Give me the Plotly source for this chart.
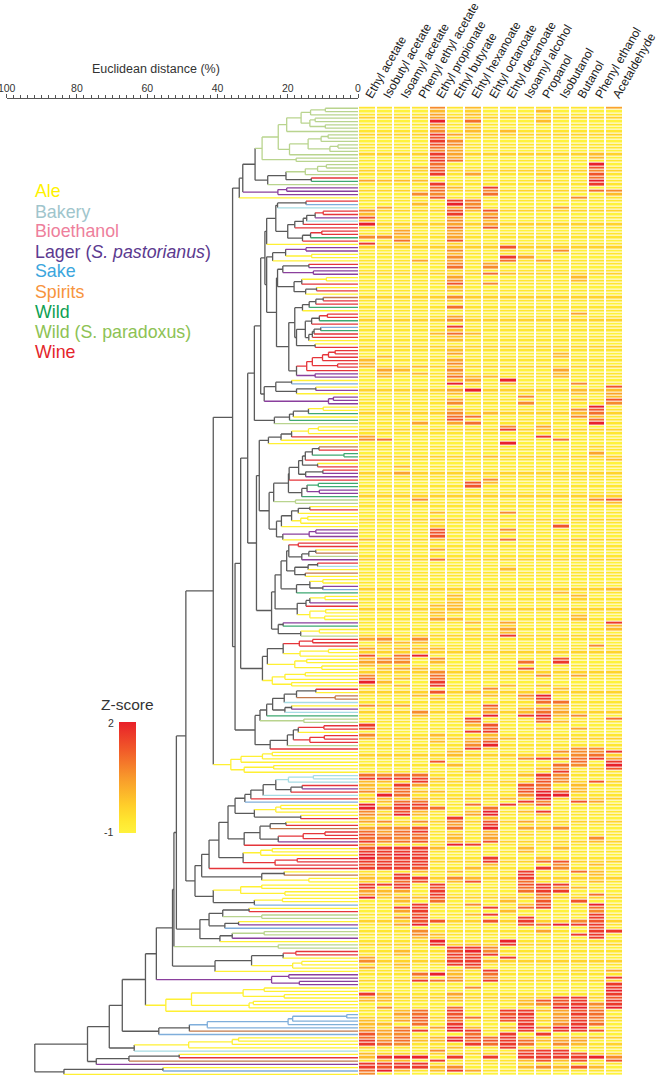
import re
import plotly.graph_objects as go

W, H = 660, 1078

COLUMNS = ["Ethyl acetate", "Isobutyl acetate", "Isoamyl acetate", "Phenyl ethyl acetate",
           "Ethyl propionate", "Ethyl butyrate", "Ehtyl hexanoate", "Ehtyl octanoate",
           "Ehtyl decanoate", "Isoamyl alcohol", "Propanol", "Isobutanol", "Butanol",
           "Phenyl ethanol", "Acetaldehyde"]

LEGEND_NAMES = ["Ale", "Bakery", "Bioethanol", "Lager (<i>S. pastorianus</i>)", "Sake",
                "Spirits", "Wild", "Wild (S. paradoxus)", "Wine"]
LEGEND_COLORS = ["#FFF200", "#9FC5CC", "#EE7F9C", "#5C3A8F", "#3BA6DD",
                 "#F7943D", "#0E9F52", "#8DC254", "#E4252B"]

# line colour of a clade whose leaves are all of one type, gray when mixed
LEAF_COLORS = {"A": "#FFF033", "B": "#A6DCE4", "E": "#EE7F9C", "L": "#8A3F9D", "K": "#7FAEDB",
               "S": "#C2784A", "W": "#3DA870", "P": "#B9D48E", "V": "#E5353A"}
MIXED = "#5A5A5A"

# dendrogram, top to bottom, heights are distance in %
P1 = "((((P,P)9.3,P)13.5,((P,P)12.2,(P,P)9.3)13.7)16.2,P)20.3"
P2 = "((((P,P)8.5,P)10.5,((P,P)5.7,P)8)14.2,P)19.5"
P3 = f"(({P1},{P2})22.7,(P,P)17.6)27.3"
P4 = "(((((P,P)9,P)11.5,P)15,(V,W)13.3)20.5,P)25.7"
UPPER = f"((({P3},{P4})29.3,((L,L)20.3,L)22.8)32.8,A)33.8"

B1 = "(((V,K)14.8,B)22.9,((((((V,V)9.9,L)12.2,B)14.6,V)15.6,V)18,(((V,V)10.3,W)13.5,V)15.8)20)23.4"
N350 = f"({B1},A)26"
N368 = "(((L,L)14.8,(A,A)13.2)20.6,A)24.3"
N833 = "(((V,L)14,(L,L)12.7)21.4,(((A,A)9,V)16,((A,V)11.8,A)14.9)18.2)22.9"
N908 = "((((S,V)9.9,V)12,W)13.9,A)15.8"
N935 = "(((V,V)8.7,W)11,V)13.2"
N938 = "((((K,W)10.6,V)12.5,V)13,A)14"
N890 = f"(({N935},{N938})15,(A,V)12.2)17.5"
N885 = f"({N908},{N890})18"
N440 = "((((((V,V)6.5,V)8.4,V)10.1,(V,V)5.8)13,V)14.6,(L,L)12.2)17.5"
N830 = f"({N833},({N885},{N440})19.7)23.2"
N345 = f"({N350},({N368},{N830})26)26.5"
N343 = "(((A,K)18.9,((A,L)12,A)17.5)23.4,((L,L)7,L)8.4)26.7"
N373 = "(((((A,A)9.9,W)14.1,A)18.4,W)19.5,P)23.8"
N313 = f"(({N345},{N343})27.7,{N373})29.5"

N355 = "(((((A,A)11.3,A)14.1,V)18.9,A)21.9,A)25.5"
N466 = "(((S,V)11.1,(W,W)4)13,V)15"
N446 = f"(({N466},(A,V)11.5)15.8,((V,L)10,L)14.9)16.9"
N416 = f"(({N446},V)19.6,(((W,W)11.3,(L,L)11)14.5,W)16)19.8"
N372 = f"({N416},(P,P)17.8)24"
N395 = "((((A,V)13.7,A)17,((A,A)14.3,A)16.3)18.9,A)21.8"
N398 = "(((L,L)12,L)13.9,A)21.4"
N358 = f"({N372},({N395},{N398})23.2)25.3"
N328 = f"({N355},{N358})28.1"
N417 = "((V,V)17,(((A,S)12,P)14,L)16)19.7"
N435 = "(((V,B)11.5,A)14.2,(S,A)15)18"
N440B = "(((A,A)10,(L,K)10)13.7,W)17.5"
N393 = f"(({N417},{N435})20.3,{N440B})21.9"
N442 = "((((A,A)9.4,L)13.7,V)14.8,((A,A)9.2,(A,A)9.5)13.7)17.3"
N385 = "((L,W)21.3,((A,A)11,P)16.3)22.7"
N365 = f"(({N393},{N442})23.6,{N385})24.6"
N320 = f"({N328},{N365})28.9"
N293 = f"({N313},{N320})31.4"
N400 = "(((V,V)12.9,V)16.7,((A,A)8.4,A)16.5)21.3"
N435C = "((A,A)14.6,(A,A)10.3)18"
N367C = "(((A,A)15,A)20.8,(A,A)18.9)24.4"
N338 = f"(({N400},{N435C})25.8,{N367C})27.2"
N272 = f"({N293},{N338})33.4"

N368D = "((((V,A)12,(S,S)6.5)17.5,B)21,((A,L)18.9,B)20.8)24.3"
N330 = f"(({N368D},W)26,(P,P)15.4)27.9"
N360 = "(((((V,V)9.7,A)17,((V,V)9.6,V)13.7)18.4,P)20.1,V)25"
N255 = f"({N272},({N330},{N360})29.3)35"
N248 = f"({UPPER},{N255})35.7"
YELLOW1 = "((((A,A)24.4,A)27.2,A)33.3,((A,A)24,A)32.4)36.2"
N190 = f"({N248},{YELLOW1})41.2"

N285 = "((((((B,B)12.7,B)19.8,((V,L)15.9,V)19.1)23.4,B)27,V)30.5,K)32.2"
N313B = "(((A,A)22,A)23.4,(A,V)16.3)29.5"
N255B = f"({N285},{N313B})35"
N733 = "((((A,V)20.5,S)25,(((V,V)9.4,V)15.6,L)22.7)27.9,V)32.4"
N730 = "(((A,A)24.4,A)27.7,((V,V)17.3,V)23.6)32.7"
N628 = f"((({N255B},{N733})37,{N730})39.6,V)42.4"
N785 = "((A,S)21,(A,A)14)27.4"
N640 = "(((A,A)27.4,(A,A)20.8)33.4,((A,A)21.5,K)29.5)41.2"
N585 = f"(({N628},{N785})44.5,{N640})46.4"
N108 = f"({N190},{N585})49"
N600 = "((((A,V)31,(P,P)27.4)38.5,((A,L)34,K)37.9)42.4,(((P,P)26.7,L)35.8,A)39.3)45"
N80 = f"({N108},{N600})51.7"
N520 = f"({N80},(P,P)22.7)52.4"
N645 = "((((V,V)17.7,A)21.3,((A,A)16,A)18.6)30.3,A)40.7"
N518 = f"({N520},{N645})52.8"
N470 = f"({N518},((L,L)19.7,(L,L)16.7)24.6)57.4"
YELLOW2 = "((((A,A)26.7,(A,A)21)32.7,((A,A)29.8,A)31)47.4,A)54.7"
N437 = f"({N470},{YELLOW2})60.5"
N477 = "((((((K,K)3.2,K)18.6,K)19.9,K)42.9,S)48,K)56.7"
N367 = f"({N437},{N477})67.1"
N403 = "((((A,A)34,A)35.8,A)48.2,B)63.7"
N290 = "(((A,V)50.9,S)65.2,L)74.5"
N193 = "((A,K)55.5,A)83.7"
TREE = f"((({N367},{N403})70.8,{N290})77,{N193})92"

# heatmap levels 0-9 (0 is z=-1, 9 is z=2): level of the pale rows, then the warm cells per column
BASE_LEVELS = ("10120101210110201012101102011012010210110120101101"
               "20110102101101201101102101102011010210110120110210"
               "10110210102110101201101021011020110120101101021011"
               "02101101021011201010211010210110201101012011021010"
               "11021011201011021011021010120110210101201101021011"
               "012011021011020101210110210110201102011010")

ETHYL_ACETATE = {22:4,27:1,31:5,32:3,33:7,34:3,35:9,36:2,39:5,41:8,76:3,77:3,78:3,99:4,100:5,130:3,
    160:4,163:4,165:7,166:3,167:4,168:3,171:5,172:6,173:9,174:3,180:5,186:8,187:7,189:5,190:3,
    201:6,202:8,203:3,204:3,205:3,206:5,208:3,210:9,211:9,212:5,213:5,214:3,215:4,
    217:4,218:6,219:7,220:6,221:8,222:4,223:7,224:8,225:9,226:9,227:8,228:7,229:8,231:2,232:3,233:2,
    234:8,235:8,236:4,237:4,238:9,256:4,257:5,259:4,267:8,268:3,269:3,271:1,275:3,276:3,277:3,278:5,
    279:7,280:6,281:8,282:8,283:2,285:3,286:3,288:8,289:8,290:6,291:5}
ISOBUTYL_ACETATE = {22:3,30:4,39:5,75:3,79:4,80:3,81:3,100:6,160:5,161:3,163:2,166:5,167:5,169:3,173:3,180:3,
    201:5,202:8,203:3,205:3,206:3,207:9,208:3,209:3,211:5,213:3,215:5,217:5,218:4,219:5,220:6,221:5,
    223:8,224:8,225:8,226:7,227:8,228:8,229:8,234:8,236:3,237:3,267:3,268:3,269:3,271:5,276:3,278:4,
    279:4,280:3,281:5,282:6,286:8,287:3,288:8,289:7,290:9}
ISOAMYL_ACETATE = {22:3,37:4,38:4,39:3,40:6,41:2,79:3,108:3,110:4,161:3,163:3,165:6,166:5,167:5,169:4,172:3,174:3,180:4,
    201:6,202:8,204:8,205:6,206:6,207:6,209:6,210:8,211:8,212:7,213:9,217:5,218:6,219:6,220:5,221:6,
    223:8,224:8,225:9,226:8,227:8,228:8,229:8,231:8,232:8,233:6,234:8,235:8,236:4,238:4,239:3,241:8,242:4,244:5,246:4,
    254:3,255:3,258:3,259:2,272:3,273:4,274:3,275:4,277:5,278:6,279:5,280:6,281:6,282:5,286:9,287:3,288:8,289:8,290:3}
PHENYL_ETHYL_ACETATE = {18:3,22:3,26:5,29:3,46:4,78:3,80:3,95:4,118:5,160:5,161:3,163:3,165:9,169:3,177:3,182:5,183:3,
    201:6,202:8,203:8,204:4,206:3,208:3,209:6,210:8,211:7,212:3,213:3,215:5,217:7,218:8,219:6,220:6,221:7,
    223:8,224:8,225:8,226:8,227:8,228:8,229:7,230:3,232:8,233:7,238:3,240:8,241:8,242:8,243:7,244:8,245:7,246:9,
    248:5,249:5,250:3,261:6,262:3,263:8,272:6,273:6,274:7,275:6,276:6,278:8,281:3,286:9,288:8,289:8}
ETHYL_PROPIONATE = {0:5,1:3,2:4,3:4,4:9,5:5,6:4,7:5,8:8,9:7,10:8,11:7,12:6,13:5,14:8,15:7,16:8,17:6,18:6,19:7,20:8,21:1,
    23:8,24:6,25:6,26:5,27:7,68:3,122:3,124:3,126:2,127:7,128:7,129:7,130:3,133:4,136:6,150:3,152:3,153:2,154:4,
    163:3,166:5,167:3,170:5,171:6,172:6,173:8,174:8,176:7,178:3,189:3,191:3,197:7,202:3,206:3,208:2,211:6,
    223:3,234:8,235:7,236:8,237:8,238:7,239:6,245:7,249:3,250:2,251:9,252:8,261:9,263:6,277:4,280:3,281:3,284:5,287:8,289:3,290:3}
ETHYL_BUTYRATE = {8:4,10:5,11:5,12:3,13:4,14:4,15:4,16:6,24:3,28:8,29:9,30:4,31:7,32:8,33:4,34:5,35:4,36:6,37:4,38:4,39:4,
    40:7,41:2,42:3,43:5,44:3,45:5,46:4,47:5,48:6,49:2,50:2,51:4,52:5,53:7,54:3,55:3,57:5,58:3,60:6,61:1,63:4,
    64:5,66:8,67:3,68:6,69:3,70:3,73:3,74:4,76:4,77:5,78:3,79:5,80:4,81:6,82:3,83:9,85:4,86:3,88:4,89:5,91:4,92:5,93:6,94:7,95:4,
    147:3,148:2,149:3,150:3,151:3,152:2,154:3,194:3,195:3,198:3,214:8,215:5,216:4,217:6,219:3,220:3,221:3,222:9,230:3,232:5,233:3,
    253:8,254:7,255:8,256:7,257:8,258:8,260:3,261:3,262:4,263:5,267:4,268:3,269:3,271:6,272:8,273:7,274:7,275:6,276:8,277:9,278:9,
    280:8,281:9,283:3,286:8,289:5,290:8}
ETHYL_HEXANOATE = {0:3,1:2,2:3,4:6,5:2,6:3,7:3,8:2,9:2,20:4,28:6,29:5,30:6,31:3,68:3,81:3,82:4,83:2,85:9,93:6,95:6,113:7,114:7,117:2,
    155:3,157:2,176:3,184:8,185:6,186:3,188:8,190:3,191:4,192:5,193:8,200:3,208:3,210:6,212:3,213:4,222:8,229:3,232:3,233:7,240:5,243:3,
    252:3,253:8,254:9,255:7,256:8,257:8,258:8,259:6,265:5,274:6,277:3,278:8,279:6,280:7,281:6,282:8,290:4}
ETHYL_OCTANOATE = {24:8,25:5,26:6,31:7,32:4,33:6,34:3,35:4,36:7,47:4,48:5,50:6,53:5,81:3,92:3,105:3,112:5,113:3,
    175:5,177:3,180:7,181:5,182:4,183:9,186:7,187:7,188:8,189:3,190:4,191:7,192:9,193:3,211:6,212:9,213:9,214:3,215:7,216:8,
    217:9,218:3,219:4,220:4,221:7,226:8,227:8,228:3,229:2,241:8,243:8,245:7,253:5,254:5,255:8,257:3,260:8,261:6,262:5,263:8,
    280:6,281:7,282:6,286:8}
ETHYL_DECANOATE = {7:3,42:7,43:2,45:8,46:6,50:3,82:9,83:3,96:5,97:8,101:9,122:5,127:5,128:2,130:6,139:3,155:4,156:2,157:4,158:3,159:8,
    174:3,190:3,208:3,210:8,239:3,242:3,251:9,252:8,256:8,272:8,273:7,274:8,275:7,277:3,279:8,280:8,281:8,282:8,283:8}
ISOAMYL_ALCOHOL = {45:4,87:5,89:5,167:6,169:7,177:5,178:3,181:3,182:3,183:8,196:5,201:3,204:7,205:7,206:7,207:5,209:8,210:3,212:3,215:4,
    217:4,219:2,223:3,224:3,230:8,231:8,232:8,233:6,234:7,235:6,236:6,238:3,240:3,241:6,244:8,245:8,246:7,
    269:3,270:3,272:8,273:8,274:8,275:8,276:8,277:9,278:8,280:3,281:6,282:6,284:7,285:8,286:8,287:3,289:3}
PROPANOL = {1:3,4:3,20:2,22:3,46:4,96:4,97:3,99:8,171:5,174:3,177:9,178:8,179:6,181:5,182:6,183:9,184:7,185:6,187:3,
    196:8,199:3,201:8,202:7,203:7,204:6,205:6,206:9,207:9,208:9,209:5,210:7,212:8,213:3,217:3,226:3,227:6,229:8,
    234:8,235:8,236:8,237:6,238:5,239:7,240:7,241:8,246:6,248:4,269:7,270:5,272:3,275:2,277:5,279:8,281:3,284:8,285:8,286:8,287:7,289:5}
ISOBUTANOL = {30:4,43:5,74:3,75:3,79:4,80:3,81:3,100:6,126:7,146:3,166:7,167:8,175:3,179:6,180:3,181:3,182:4,183:3,185:3,
    194:5,196:6,198:6,199:5,200:8,201:5,202:5,203:5,206:7,207:9,217:5,223:3,227:7,228:5,229:5,234:8,235:5,236:8,246:9,
    268:8,269:7,270:7,271:9,272:4,273:4,274:5,275:4,276:5,277:9,278:8,280:3,281:4,282:5,284:8,285:8,286:8,287:3,289:3}
BUTANOL = {27:5,51:3,52:3,62:4,83:5,85:3,86:3,88:3,91:5,92:3,93:5,130:3,147:3,148:2,153:3,154:3,171:4,183:5,187:4,
    193:5,194:5,195:5,196:6,197:6,198:5,204:3,205:3,206:3,209:7,230:6,235:3,239:7,245:5,246:8,249:8,
    260:2,268:8,269:8,270:8,271:9,272:7,273:8,274:7,275:8,276:8,277:9,278:8,280:3,281:4,282:3,285:7,286:8,287:7,289:7}
PHENYL_ETHANOL = {14:3,15:3,17:9,18:7,19:5,20:7,21:6,22:9,23:8,25:6,90:9,91:7,92:6,93:3,94:6,95:9,102:2,104:4,118:5,162:5,
    193:5,194:5,195:6,196:8,199:2,203:7,209:4,220:5,221:3,228:3,230:3,231:3,233:3,237:6,240:9,241:6,242:5,243:8,244:8,245:7,246:8,247:7,248:8,249:8,250:8,
    270:5,271:4,272:6,273:6,274:6,275:5,276:6,278:7,280:3,285:2,286:9,289:3}
ACETALDEHYDE = {0:4,25:5,26:3,84:7,85:3,86:4,87:3,88:7,89:5,106:3,118:7,119:3,145:3,151:2,155:8,156:3,157:3,184:6,
    194:8,196:4,197:8,198:9,199:7,232:2,248:8,260:4,262:8,264:8,265:8,266:9,267:8,268:7,269:8,270:8,271:9,282:2,286:5,287:7}

WARM_CELLS = [ETHYL_ACETATE, ISOBUTYL_ACETATE, ISOAMYL_ACETATE, PHENYL_ETHYL_ACETATE, ETHYL_PROPIONATE,
              ETHYL_BUTYRATE, ETHYL_HEXANOATE, ETHYL_OCTANOATE, ETHYL_DECANOATE, ISOAMYL_ALCOHOL,
              PROPANOL, ISOBUTANOL, BUTANOL, PHENYL_ETHANOL, ACETALDEHYDE]


def parse_tree(text):
    tokens = re.findall(r"[(),]|[A-Z]|\d+\.?\d*", text)
    pos = 0

    def node():
        nonlocal pos
        tok = tokens[pos]
        pos += 1
        if tok != "(":
            return {"kind": tok, "h": 0, "kids": []}
        kids = [node()]
        while tokens[pos] == ",":
            pos += 1
            kids.append(node())
        pos += 1  # closing bracket
        h = float(tokens[pos])
        pos += 1
        return {"kind": None, "h": h, "kids": kids}

    return node()


def place(node, leaves):
    if not node["kids"]:
        node["y"] = len(leaves)
        leaves.append(node["kind"])
        node["color"] = LEAF_COLORS[node["kind"]]
        return
    for k in node["kids"]:
        place(k, leaves)
    node["y"] = (node["kids"][0]["y"] + node["kids"][-1]["y"]) / 2
    colors = {k["color"] for k in node["kids"]}
    node["color"] = colors.pop() if len(colors) == 1 else MIXED


def collect(node, parent_h, segs):
    xs, ys = segs.setdefault(node["color"], ([], []))
    xs.extend([parent_h, node["h"], None])
    ys.extend([node["y"], node["y"], None])
    if node["kids"]:
        xs.extend([node["h"], node["h"], None])
        ys.extend([node["kids"][0]["y"], node["kids"][-1]["y"], None])
        for k in node["kids"]:
            collect(k, node["h"], segs)


root = parse_tree(TREE)
leaves = []
place(root, leaves)
n_rows = len(leaves)
assert n_rows == len(BASE_LEVELS), (n_rows, len(BASE_LEVELS))
segs = {}
collect(root, root["h"], segs)

z = []
for r in range(n_rows):
    row = []
    for cells in WARM_CELLS:
        row.append(-1 + cells.get(r, int(BASE_LEVELS[r])) / 3)
    z.append(row)

fig = go.Figure()

# mixed clades underneath the coloured ones
for color in sorted(segs, key=lambda c: c != MIXED):
    fig.add_trace(go.Scatter(x=segs[color][0], y=segs[color][1], mode="lines",
                             line=dict(color=color, width=1.3), hoverinfo="skip",
                             xaxis="x", yaxis="y", showlegend=False))

fig.add_trace(go.Heatmap(
    z=z, x=COLUMNS, y=list(range(n_rows)), xaxis="x2", yaxis="y",
    zmin=-1, zmax=2, xgap=2, ygap=1,
    colorscale=[[0, "#FFF23C"], [0.12, "#FFE52F"], [0.25, "#FFCE2A"], [0.5, "#F8992B"],
                [0.75, "#F15A29"], [1, "#E8202A"]],
    colorbar=dict(x=119.3 / W, xanchor="left", y=1 - 721.7 / H, yanchor="top",
                  thickness=17.4, thicknessmode="pixels", len=110.6 / H, lenmode="fraction",
                  outlinewidth=0, xpad=0, ypad=0, ticks="", showticklabels=False),
))

annotations = [
    dict(text="Euclidean distance (%)", xref="x", x=57.5, yref="paper", y=1 - 69 / H,
         yanchor="middle", showarrow=False, font=dict(size=12.5, color="#333333")),
    dict(text="Z-score", xref="paper", x=127.5 / W, xanchor="center", yref="paper", y=1 - 704 / H,
         yanchor="middle", showarrow=False, font=dict(size=15.5, color="#333333")),
    dict(text="2", xref="paper", x=116 / W, xanchor="right", yref="paper", y=1 - 722.7 / H,
         yanchor="middle", showarrow=False, font=dict(size=10.5, color="#333333")),
    dict(text="-1", xref="paper", x=114.5 / W, xanchor="right", yref="paper", y=1 - 831.7 / H,
         yanchor="middle", showarrow=False, font=dict(size=10.5, color="#333333")),
]
for i, (name, color) in enumerate(zip(LEGEND_NAMES, LEGEND_COLORS)):
    annotations.append(dict(text=name, xref="paper", x=33 / W, xanchor="left", yref="paper",
                            y=1 - (191.5 + 20 * i) / H, yanchor="middle", showarrow=False,
                            font=dict(size=17.8, color=color)))

fig.update_layout(
    width=W, height=H, autosize=False,
    margin=dict(l=0, r=0, t=0, b=0, autoexpand=False),
    paper_bgcolor="white", plot_bgcolor="white",
    font=dict(family="Liberation Sans, Arial, sans-serif", color="#333333"),
    showlegend=False,
    annotations=annotations,
    xaxis=dict(domain=[6.7 / W, 358 / W], range=[100, 0], side="top", anchor="free",
               position=1 - 97.7 / H, showgrid=False, zeroline=False, showline=True,
               linecolor="#555555", linewidth=1, ticks="outside", ticklen=4, tickcolor="#555555",
               tick0=0, dtick=20, tickfont=dict(size=10.5), automargin=False,
               ticklabeloverflow="allow", ticklabelstandoff=-2,
               minor=dict(dtick=2, ticks="outside", ticklen=2.5, tickcolor="#555555")),
    xaxis2=dict(domain=[358 / W, 623 / W], side="top", anchor="y", tickangle=-60,
                showgrid=False, zeroline=False, showline=False, ticks="", automargin=False,
                tickfont=dict(size=12, color="#222222"), ticklabelstandoff=1),
    yaxis=dict(domain=[1 - 1076 / H, 1 - 106.6 / H], range=[n_rows - 0.5, -0.5], visible=False),
)

fig.write_html("out.html", post_script="document.body.style.margin='0';",
               config={"displayModeBar": False})
